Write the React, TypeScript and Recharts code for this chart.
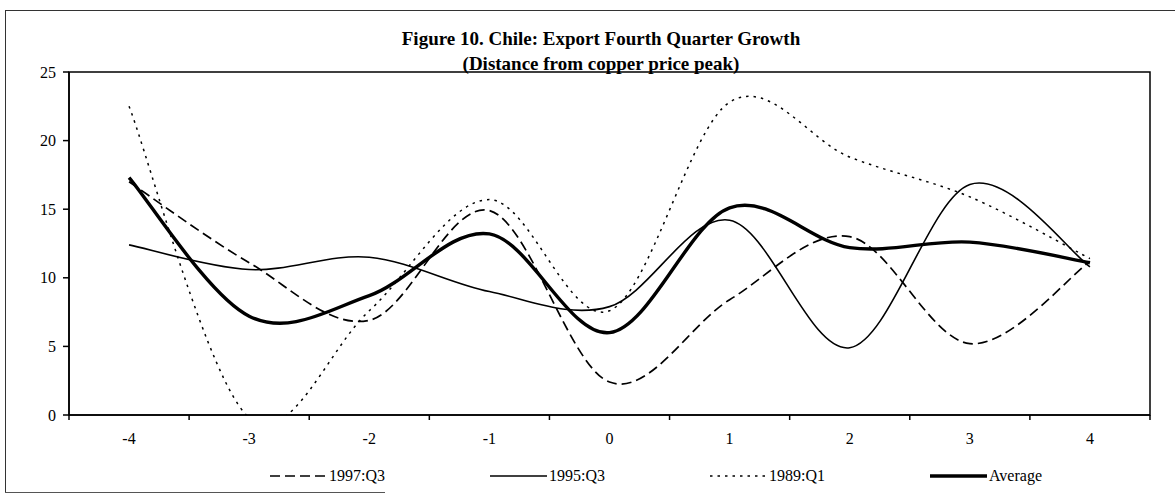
import React from "react";
import { LineChart, Line, XAxis, YAxis, Legend, ReferenceArea } from "recharts";

const quarters = [-4, -3, -2, -1, 0, 1, 2, 3, 4];
const q1997Q3 = [17.0, 11.1, 6.9, 14.9, 2.4, 8.4, 13.0, 5.2, 11.2];
const q1995Q3 = [12.4, 10.6, 11.5, 9.0, 7.9, 14.2, 4.9, 16.8, 10.8];
const q1989Q1 = [22.5, -0.2, 7.6, 15.7, 7.6, 22.8, 18.8, 15.9, 11.4];
const average = [17.3, 7.2, 8.7, 13.2, 6.0, 15.1, 12.2, 12.6, 11.1];

const yTicks = [0, 5, 10, 15, 20, 25];
// tick marks sit between categories, like the old spreadsheet chart
const xBounds = [-4.5, -3.5, -2.5, -1.5, -0.5, 0.5, 1.5, 2.5, 3.5, 4.5];

const data = quarters.map((q, i) => ({
  q,
  a: q1997Q3[i],
  b: q1995Q3[i],
  c: q1989Q1[i],
  avg: average[i],
}));

const series = [
  { key: "a", name: "1997:Q3", width: 1.7, dash: "10 5" },
  { key: "b", name: "1995:Q3", width: 1.6, dash: undefined },
  { key: "c", name: "1989:Q1", width: 1.5, dash: "2.5 5" },
  { key: "avg", name: "Average", width: 3.4, dash: undefined },
];

// excel-like smoothing: catmull-rom through every point
function smooth(context: any) {
  let pts: number[][] = [];
  return {
    areaStart() {},
    areaEnd() {},
    lineStart() {
      pts = [];
    },
    point(x: number, y: number) {
      pts.push([+x, +y]);
    },
    lineEnd() {
      if (!pts.length) return;
      context.moveTo(pts[0][0], pts[0][1]);
      for (let i = 0; i < pts.length - 1; i++) {
        const p0 = pts[i - 1] || pts[i];
        const p1 = pts[i];
        const p2 = pts[i + 1];
        const p3 = pts[i + 2] || pts[i + 1];
        context.bezierCurveTo(
          p1[0] + (p2[0] - p0[0]) / 6,
          p1[1] + (p2[1] - p0[1]) / 6,
          p2[0] - (p3[0] - p1[0]) / 6,
          p2[1] - (p3[1] - p1[1]) / 6,
          p2[0],
          p2[1]
        );
      }
    },
  };
}

const font = "'Liberation Serif', 'Times New Roman', serif";

function LegendBox() {
  return (
    <div style={{ display: "flex", paddingLeft: 270, paddingTop: 22, fontFamily: font, fontSize: 16 }}>
      {series.map((s) => (
        <div key={s.key} style={{ display: "flex", alignItems: "center", width: 222 }}>
          <svg width={57} height={10}>
            <line x1={0} y1={5} x2={57} y2={5} stroke="#000" strokeWidth={s.width} strokeDasharray={s.dash} />
          </svg>
          <span style={{ marginLeft: 2 }}>{s.name}</span>
        </div>
      ))}
    </div>
  );
}

export default function App() {
  return (
    <div style={{ position: "absolute", left: 0, top: 0, width: 1175, height: 496, background: "#fff" }}>
      <div style={{ position: "absolute", left: 5, top: 10, width: 1170, height: 482, borderLeft: "1.5px solid #333", borderTop: "1.5px solid #333" }} />
      <div style={{ position: "absolute", left: 5, top: 492, width: 380, borderTop: "1.5px solid #555" }} />
      <div style={{ position: "absolute", left: 0, top: 26, width: 1202, textAlign: "center", fontFamily: font, fontWeight: "bold", fontSize: 19, lineHeight: "25px" }}>
        <div>Figure 10. Chile: Export Fourth Quarter Growth</div>
        <div>(Distance from copper price peak)</div>
      </div>
      <LineChart width={1175} height={496} data={data} margin={{ top: 72, right: 25, bottom: 0, left: 0 }} style={{ position: "absolute", left: 0, top: 0 }}>
        <XAxis
          dataKey="q"
          type="number"
          domain={[-4.5, 4.5]}
          ticks={xBounds}
          interval={0}
          height={30}
          tickSize={5}
          tickMargin={13}
          stroke="#000"
          strokeWidth={1.5}
          tick={{ fill: "#000", fontSize: 16, fontFamily: font, dx: 60 }}
          tickFormatter={(v: number) => (v < 4 ? String(v + 0.5) : "")}
        />
        <YAxis
          domain={[0, 25]}
          ticks={yTicks}
          allowDataOverflow
          width={69}
          tickSize={6}
          tickMargin={7}
          stroke="#000"
          strokeWidth={1.5}
          tick={{ fill: "#000", fontSize: 16, fontFamily: font }}
        />
        <ReferenceArea x1={-4.5} x2={4.5} y1={0} y2={25} fill="none" stroke="#000" strokeWidth={1.5} />
        {series.map((s) => (
          <Line
            key={s.key}
            dataKey={s.key}
            name={s.name}
            type={smooth as any}
            stroke="#000"
            strokeWidth={s.width}
            strokeDasharray={s.dash}
            dot={false}
            activeDot={false}
            isAnimationActive={false}
          />
        ))}
        <Legend verticalAlign="bottom" height={51} content={() => <LegendBox />} />
      </LineChart>
    </div>
  );
}
